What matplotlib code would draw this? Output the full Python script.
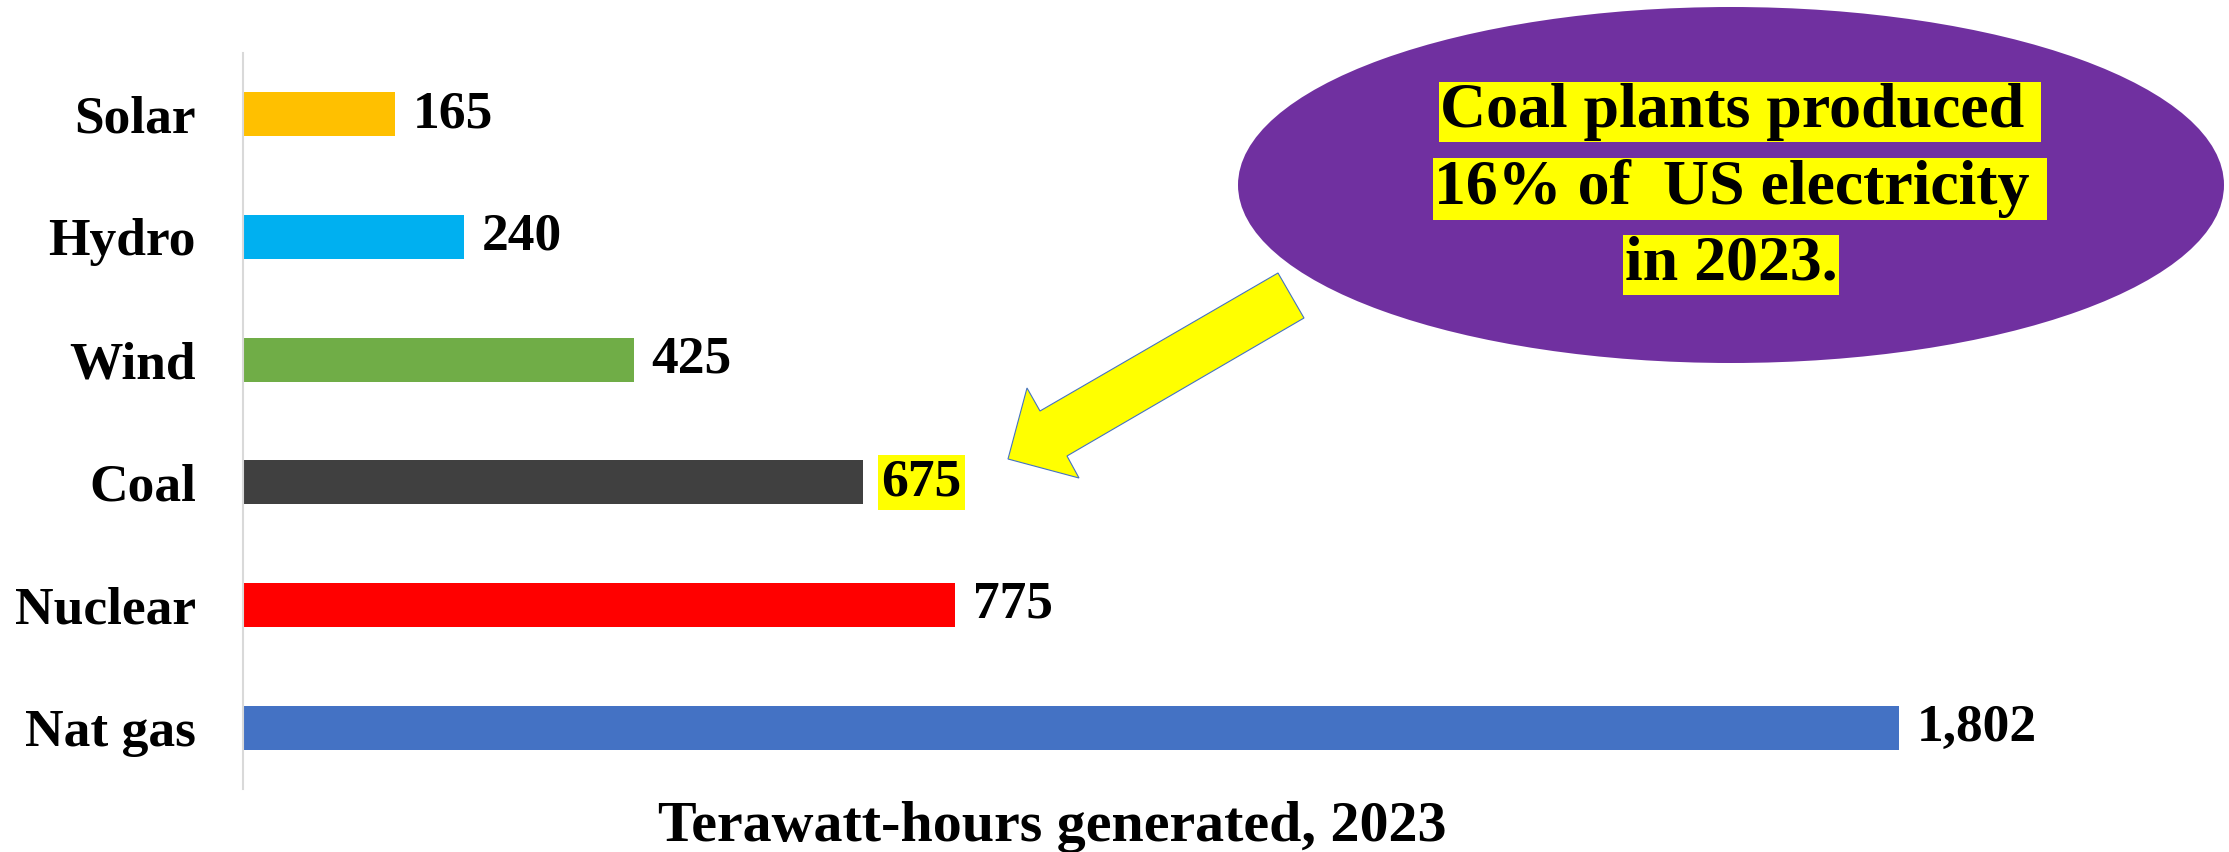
import matplotlib
matplotlib.use("Agg")
import matplotlib.pyplot as plt
from matplotlib.patches import Ellipse, Polygon

# data (bottom to top)
sources = ["Nat gas", "Nuclear", "Coal", "Wind", "Hydro", "Solar"]
twh = [1802, 775, 675, 425, 240, 165]
colors = ["#4472C4", "#FF0000", "#404040", "#70AD47", "#00B0F0", "#FFC000"]
highlight = "Coal"

callout_lines = ["Coal plants produced ", "16% of  US electricity ", "in 2023."]
xlabel_text = "Terawatt-hours generated, 2023"

W, H = 2229, 852
FONT = "Liberation Serif"

def fx(px):
    return px / W

def fy(py):
    return 1 - py / H

fig = plt.figure(figsize=(W / 100, H / 100), dpi=100)
ax = fig.add_axes([fx(243), fy(789), 1 - fx(243), fy(53) - fy(789)])

ypos = list(range(len(sources)))
ax.barh(ypos, twh, height=0.36, color=colors)
ax.set_xlim(0, (W - 243) / 0.919)
ax.set_ylim(-0.5, len(sources) - 0.5)

ax.set_yticks(ypos)
ax.set_yticklabels(sources, fontsize=38.5, fontweight="bold", family=FONT)
ax.tick_params(axis="y", length=0, pad=34)
ax.set_xticks([])
for s in ["top", "right", "bottom"]:
    ax.spines[s].set_visible(False)
ax.spines["left"].set_color("#D9D9D9")
ax.spines["left"].set_linewidth(1.5)

# value labels
for y, v, name in zip(ypos, twh, sources):
    box = None
    if name == highlight:
        box = dict(boxstyle="square,pad=0.06", fc="#FFFF00", ec="none")
    ax.annotate(f"{v:,}", xy=(v, y), xytext=(13, 0), textcoords="offset points",
                ha="left", va="center", fontsize=38.5, fontweight="bold",
                family=FONT, bbox=box)

fig.text(fx(1052), fy(841), xlabel_text, ha="center", va="baseline",
         fontsize=41.8, fontweight="bold", family=FONT)

# purple callout
fig.patches.append(Ellipse((fx(1731), fy(185)), fx(986), 356 / H,
                           transform=fig.transFigure, fc="#7030A0", ec="none"))

line_pos = [(1740, 112), (1740, 189), (1731, 265)]
for txt, (px, py) in zip(callout_lines, line_pos):
    fig.text(fx(px), fy(py), txt, ha="center", va="center", fontsize=46,
             fontweight="bold", family=FONT,
             bbox=dict(boxstyle="square,pad=0.02", fc="#FFFF00", ec="none"))

# yellow block arrow pointing to the coal value
arrow_px = [(1008, 459), (1027, 388), (1040, 411), (1278, 273),
            (1304, 318), (1067, 456), (1079, 478)]
arrow = Polygon([(fx(x), fy(y)) for x, y in arrow_px], closed=True,
                transform=fig.transFigure, fc="#FFFF00", ec="#4472C4", lw=0.8)
fig.patches.append(arrow)

fig.savefig("out.png", dpi=100)
